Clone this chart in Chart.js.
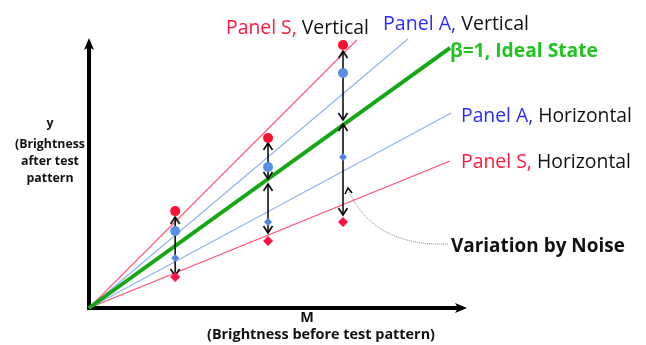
<!DOCTYPE html>
<html>
<head>
<meta charset="utf-8">
<script src="https://cdn.jsdelivr.net/npm/chart.js@4.4.1/dist/chart.umd.min.js"></script>
<style>
html,body{margin:0;padding:0;background:#fff;}
#wrap{width:646px;height:345px;}
</style>
</head>
<body>
<div id="wrap"><canvas id="c" width="646" height="345"></canvas></div>
<script>
// ---- data ----
const sampleX = [2.31, 4.80, 6.81];
const panelSVertical   = [3.67, 6.44, 9.96];   // red circles
const panelAVertical   = [2.92, 5.34, 8.90];   // blue circles
const panelAHorizontal = [1.89, 3.26, 5.72];   // blue diamonds
const panelSHorizontal = [1.17, 2.54, 3.26];   // red diamonds

const lineNames = ['Panel S, Vertical', 'Panel A, Vertical', 'β=1, Ideal State', 'Panel A, Horizontal', 'Panel S, Horizontal'];
const lineEndX  = [7.18, 8.55, 9.68, 9.71, 9.68];
const lineEndY  = [10.15, 10.19, 9.85, 7.39, 5.57];

const arrowX    = [2.31, 4.80, 4.80, 6.81, 6.81];
const arrowLow  = [1.21, 2.84, 4.89, 3.52, 7.12];
const arrowHigh = [3.45, 4.70, 6.25, 6.97, 9.73];

const yTitleLines = ['y', '(Brightness', 'after test', 'pattern'];
const xTitleLines = ['M', '(Brightness before test pattern)'];

const axisMin = 0, axisMax = 10;

// ---- styles ----
const RED_TXT = '#ff1a3c', BLUE_TXT = '#2b2bff', GREEN_TXT = '#1fc41f';
const lineColors = ['#ff5c7a', '#8fb3f2', '#14a814', '#8fb3f2', '#ff4d6d'];
const lineWidths = [1.2, 1.2, 4, 1.2, 1.2];

function chevron() {
  const c = document.createElement('canvas');
  c.width = 18; c.height = 18;
  const g = c.getContext('2d');
  g.strokeStyle = '#000'; g.lineWidth = 1.6; g.lineJoin = 'miter';
  g.beginPath(); g.moveTo(4.5, 16); g.lineTo(9, 9); g.lineTo(13.5, 16); g.stroke();
  return c;
}
const chev = chevron();

const datasets = [];
lineNames.forEach((n, i) => {
  datasets.push({
    label: n, data: [{x: 0, y: 0}, {x: lineEndX[i], y: lineEndY[i]}],
    showLine: true, borderColor: lineColors[i], borderWidth: lineWidths[i],
    pointRadius: 0, clip: false, order: i === 2 ? 3 : 4
  });
});
arrowX.forEach((x, i) => {
  datasets.push({
    label: 'noise' + i, data: [{x: x, y: arrowLow[i]}, {x: x, y: arrowHigh[i]}],
    showLine: true, borderColor: '#000', borderWidth: 1.5,
    pointStyle: chev, pointRadius: 5, pointRotation: [180, 0], clip: false, order: 2
  });
});
const mk = (arr) => sampleX.map((x, i) => ({x: x, y: arr[i]}));
datasets.push({label: 'S-V pts', data: mk(panelSVertical), showLine: false, pointStyle: 'circle', pointRadius: 5, backgroundColor: '#ff1030', borderWidth: 0, clip: false, order: 1});
datasets.push({label: 'A-V pts', data: mk(panelAVertical), showLine: false, pointStyle: 'circle', pointRadius: 5, backgroundColor: '#5a8ee4', borderWidth: 0, clip: false, order: 1});
datasets.push({label: 'A-H pts', data: mk(panelAHorizontal), showLine: false, pointStyle: 'rectRot', pointRadius: 4, backgroundColor: '#4f84e6', borderWidth: 0, clip: false, order: 1});
datasets.push({label: 'S-H pts', data: mk(panelSHorizontal), showLine: false, pointStyle: 'rectRot', pointRadius: 5, backgroundColor: '#ff1040', borderWidth: 0, clip: false, order: 1});

function fitSize(ctx, text, targetW, weight, family) {
  ctx.font = weight + ' 20px "' + family + '"';
  return 20 * targetW / ctx.measureText(text).width;
}
function drawFit(ctx, parts, x, baseline, targetW, weight, family) {
  const full = parts.map(p => p[0]).join('');
  const size = fitSize(ctx, full, targetW, weight, family);
  ctx.font = weight + ' ' + size.toFixed(2) + 'px "' + family + '"';
  ctx.textBaseline = 'alphabetic'; ctx.textAlign = 'left';
  let cx = x;
  parts.forEach(p => { ctx.fillStyle = p[1]; ctx.fillText(p[0], cx, baseline); cx += ctx.measureText(p[0]).width; });
}
function drawCenter(ctx, text, cx, baseline, size, weight, family, color) {
  ctx.font = weight + ' ' + size.toFixed(2) + 'px "' + family + '"';
  ctx.fillStyle = color; ctx.textAlign = 'center'; ctx.textBaseline = 'alphabetic';
  ctx.fillText(text, cx, baseline);
}

const decor = {
  id: 'decor',
  afterDraw(chart) {
    const ctx = chart.ctx, a = chart.chartArea;
    const xs = chart.scales.x, ys = chart.scales.y;
    const ox = xs.getPixelForValue(axisMin), oy = ys.getPixelForValue(axisMin);
    ctx.save();
    // axis arrowheads
    ctx.fillStyle = '#000';
    ctx.beginPath();
    ctx.moveTo(ox, a.top - 6); ctx.lineTo(ox - 5, a.top + 6); ctx.lineTo(ox, a.top + 3); ctx.lineTo(ox + 5, a.top + 6); ctx.closePath(); ctx.fill();
    ctx.beginPath();
    ctx.moveTo(a.right + 5, oy); ctx.lineTo(a.right - 7, oy - 5); ctx.lineTo(a.right - 4, oy); ctx.lineTo(a.right - 7, oy + 5); ctx.closePath(); ctx.fill();

    // line labels
    const fam = 'Open Sans';
    drawFit(ctx, [['Panel S,', RED_TXT], [' Vertical', '#111']], 226, 34, 143, 'normal', fam);
    drawFit(ctx, [['Panel A,', BLUE_TXT], [' Vertical', '#111']], 383, 30, 146, 'normal', fam);
    drawFit(ctx, [['β=1, Ideal State', GREEN_TXT]], 450, 57, 148, 'bold', fam);
    drawFit(ctx, [['Panel A,', BLUE_TXT], [' Horizontal', '#111']], 461, 122, 171, 'normal', fam);
    drawFit(ctx, [['Panel S,', RED_TXT], [' Horizontal', '#111']], 461, 168, 170, 'normal', fam);
    drawFit(ctx, [['Variation by Noise', '#111']], 451, 252, 174, 'bold', fam);

    // axis titles
    const ySize = fitSize(ctx, yTitleLines[1], 70, 'bold', fam);
    const yBase = [127, 148, 165, 182];
    yTitleLines.forEach((t, i) => drawCenter(ctx, t, 50, yBase[i], ySize, 'bold', fam, '#111'));
    const xSize = fitSize(ctx, xTitleLines[1], 228, 'bold', fam);
    drawCenter(ctx, xTitleLines[0], 307, 322, xSize, 'bold', fam, '#111');
    drawCenter(ctx, xTitleLines[1], 321, 339, xSize, 'bold', fam, '#111');

    // dotted pointer to the noise arrow
    const tx = xs.getPixelForValue(arrowX[4]) + 5, ty = 189;
    ctx.strokeStyle = '#8a8a8a'; ctx.lineWidth = 1; ctx.setLineDash([1, 1]);
    ctx.beginPath(); ctx.moveTo(448, 244); ctx.bezierCurveTo(395, 246, 365, 225, tx + 1, ty + 3); ctx.stroke();
    ctx.setLineDash([]);
    ctx.strokeStyle = '#000'; ctx.lineWidth = 1.5;
    ctx.beginPath(); ctx.moveTo(tx - 3, ty + 5); ctx.lineTo(tx, ty - 1); ctx.lineTo(tx + 4, ty + 4); ctx.stroke();
    ctx.restore();
  }
};

new Chart(document.getElementById('c'), {
  type: 'scatter',
  data: {datasets: datasets},
  options: {
    responsive: false, animation: false, events: [],
    layout: {padding: {left: 89, right: 184, top: 44, bottom: 37}},
    plugins: {legend: {display: false}, tooltip: {enabled: false}},
    scales: {
      x: {type: 'linear', min: axisMin, max: axisMax, grid: {display: false}, ticks: {display: false},
          border: {display: true, color: '#000', width: 4}, afterFit: s => { s.height = 0; }},
      y: {type: 'linear', min: axisMin, max: axisMax, grid: {display: false}, ticks: {display: false},
          border: {display: true, color: '#000', width: 4}, afterFit: s => { s.width = 0; }}
    }
  },
  plugins: [decor]
});
</script>
</body>
</html>
